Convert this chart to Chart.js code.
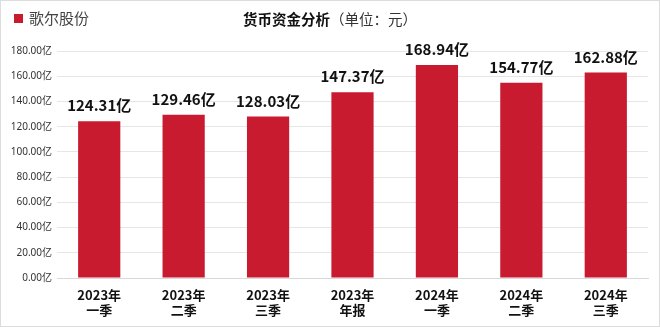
<!DOCTYPE html>
<html>
<head>
<meta charset="utf-8">
<script src="https://cdn.jsdelivr.net/npm/chart.js@4.4.1/dist/chart.umd.min.js"></script>
<style>
  html, body { margin: 0; padding: 0; background: #fff; }
  #wrap { position: relative; width: 660px; height: 327px; box-sizing: border-box; border: 1px solid #dcdcdc; overflow: hidden; font-family: "Noto Sans CJK SC", "Noto Sans", sans-serif; }
  #chart { position: absolute; left: 0; top: 0; }
  #legend { position: absolute; left: 13px; top: 7px; font-size: 15px; color: #444; line-height: 20px; }
  #legend .sw { display: inline-block; width: 9px; height: 9px; background: #c81b30; margin-right: 6px; vertical-align: 1px; }
  #title { position: absolute; left: 242px; top: 8px; font-size: 14.5px; color: #111; line-height: 20px; white-space: nowrap; }
  #title b { font-weight: 700; }
  #title span { font-weight: 400; color: #333; }
</style>
</head>
<body>
<div id="wrap">
  <canvas id="chart" width="660" height="327"></canvas>
  <div id="legend"><span class="sw"></span>歌尔股份</div>
  <div id="title"><b>货币资金分析</b><span>（单位：元）</span></div>
</div>
<script>
// Reporting periods (two-line axis labels)
const periods = [
  ['2023年', '一季'],
  ['2023年', '二季'],
  ['2023年', '三季'],
  ['2023年', '年报'],
  ['2024年', '一季'],
  ['2024年', '二季'],
  ['2024年', '三季']
];
// Cash and cash equivalents, in 亿元
const cashValues = [124.31, 129.46, 128.03, 147.37, 168.94, 154.77, 162.88];
const seriesName = '歌尔股份';
const yTicks = [0, 20, 40, 60, 80, 100, 120, 140, 160, 180];

const barColor = '#c81b30';

// Writes each bar's value above it
const valueLabels = {
  id: 'valueLabels',
  afterDatasetsDraw(chart) {
    const ctx = chart.ctx;
    const meta = chart.getDatasetMeta(0);
    ctx.save();
    ctx.font = '700 15px "Noto Sans CJK SC", sans-serif';
    ctx.fillStyle = '#111';
    ctx.textAlign = 'center';
    ctx.textBaseline = 'alphabetic';
    meta.data.forEach((bar, i) => {
      const v = chart.data.datasets[0].data[i];
      ctx.fillText(v.toFixed(2) + '亿', bar.x, bar.y - 10);
    });
    ctx.restore();
  }
};

new Chart(document.getElementById('chart'), {
  type: 'bar',
  data: {
    labels: periods,
    datasets: [{
      label: seriesName,
      data: cashValues,
      backgroundColor: barColor,
      borderWidth: 0,
      categoryPercentage: 1,
      barPercentage: 0.5
    }]
  },
  options: {
    responsive: false,
    animation: false,
    devicePixelRatio: 1,
    layout: { padding: { left: 7, right: 13, top: 50, bottom: 0 } },
    plugins: {
      legend: { display: false },
      title: { display: false },
      tooltip: { enabled: false }
    },
    scales: {
      x: {
        grid: { display: false },
        border: { color: '#d9d9d9' },
        ticks: {
          color: '#111',
          font: { family: '"Noto Sans CJK SC", sans-serif', size: 13, weight: '700', lineHeight: 1.15 },
          padding: 2,
          maxRotation: 0
        },
        afterFit(scale) { scale.height = 50; }
      },
      y: {
        min: 0,
        max: 180,
        afterBuildTicks(scale) { scale.ticks = yTicks.map(v => ({ value: v })); },
        grid: { color: '#e6e6e6', drawTicks: false },
        border: { display: false },
        ticks: {
          color: '#333',
          font: { family: '"Noto Sans", "Noto Sans CJK SC", sans-serif', size: 10 },
          padding: 5,
          callback: v => v.toFixed(2) + '亿'
        },
        afterFit(scale) { scale.width = 49; }
      }
    }
  },
  plugins: [valueLabels]
});
</script>
</body>
</html>
